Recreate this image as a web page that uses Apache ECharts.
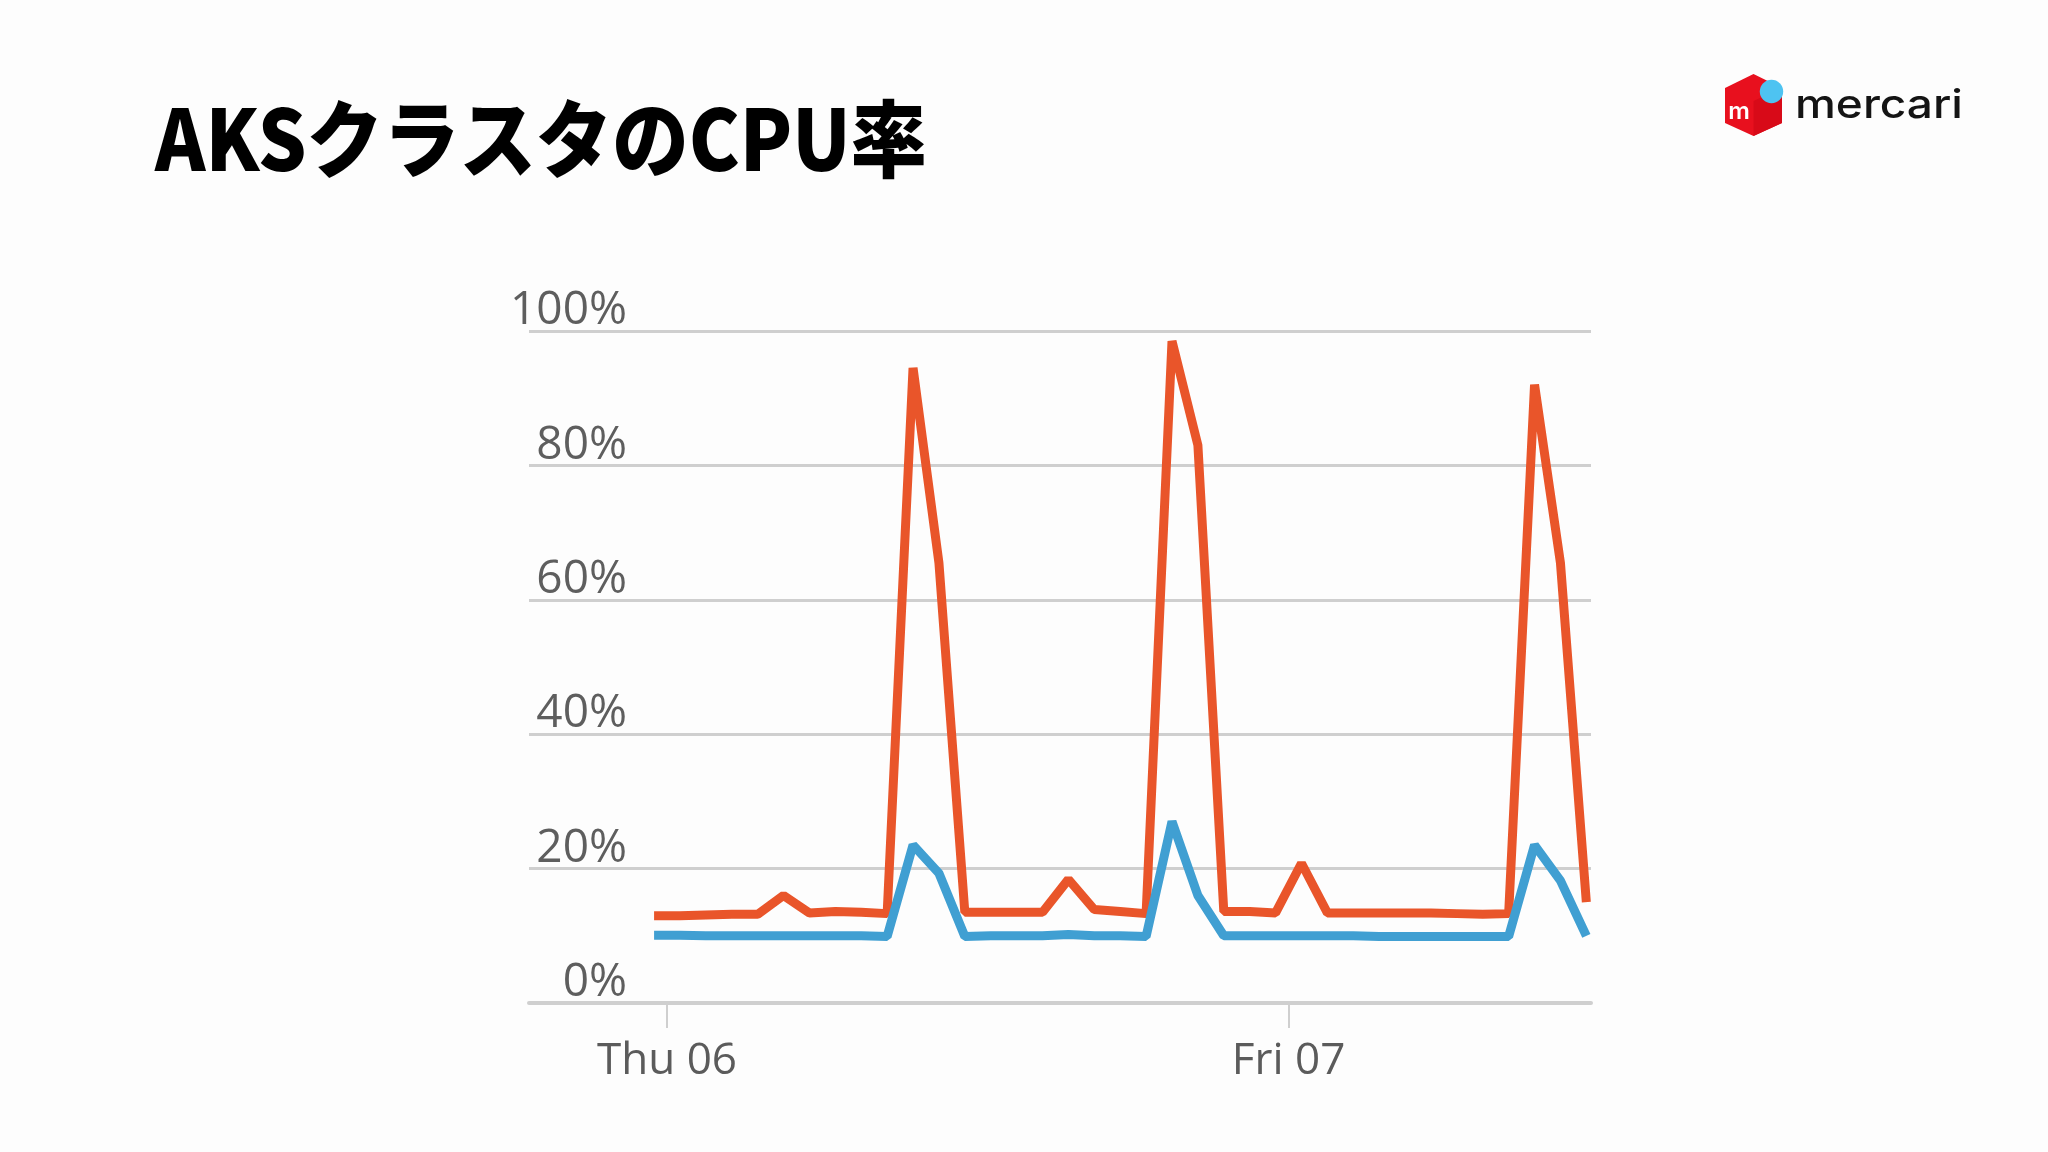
<!DOCTYPE html>
<html>
<head>
<meta charset="utf-8">
<script src="https://cdn.jsdelivr.net/npm/echarts@6/dist/echarts.min.js"></script>
<style>
html,body{margin:0;padding:0;background:#fdfdfd;}
#c{width:2048px;height:1152px;}
</style>
</head>
<body>
<div id="c"></div>
<script>
// hours relative to Thu 06 00:00 (one sample per hour, at half past)
const hours = [-0.5,0.5,1.5,2.5,3.5,4.5,5.5,6.5,7.5,8.5,9.5,10.5,11.5,12.5,13.5,14.5,15.5,16.5,17.5,18.5,19.5,20.5,21.5,22.5,23.5,24.5,25.5,26.5,27.5,28.5,29.5,30.5,31.5,32.5,33.5,34.5,35.5];
const orangeValues = [13.0,13.0,13.1,13.2,13.2,16.0,13.4,13.6,13.5,13.3,94.5,65.5,13.5,13.5,13.5,13.5,18.4,13.9,13.6,13.3,98.5,83.0,13.6,13.6,13.4,20.8,13.4,13.4,13.4,13.4,13.4,13.3,13.2,13.3,92.0,65.5,15.0];
const blueValues = [10.1,10.1,10.0,10.0,10.0,10.0,10.0,10.0,10.0,9.9,23.5,19.3,9.9,10.0,10.0,10.0,10.2,10.0,10.0,9.9,27.0,16.0,10.0,10.0,10.0,10.0,10.0,10.0,9.9,9.9,9.9,9.9,9.9,9.9,23.5,18.2,10.0];
const xTickHours = [0,24];
const xTickLabels = ['Thu 06','Fri 07'];
const yTickValues = [0,20,40,60,80,100];
const titleText = 'AKSクラスタのCPU率';
const logoText = 'mercari';

const chart = echarts.init(document.getElementById('c'), null, {renderer:'canvas'});
const pair = vals => hours.map((h,i)=>[h, vals[i]]);

chart.setOption({
  backgroundColor:'#fdfdfd',
  animation:false,
  grid:{left:529, right:457, top:331, bottom:149, containLabel:false},
  xAxis:{
    type:'value', min:-5.33, max:35.68,
    axisLine:{show:true, lineStyle:{color:'#cfcfcf', width:4}},
    axisTick:{show:true, customValues:xTickHours, length:25, lineStyle:{color:'#cfcfcf', width:2}},
    axisLabel:{
      customValues:xTickHours,
      formatter:(v)=>{const k=xTickHours.indexOf(v); return k>=0?xTickLabels[k]:'';},
      margin:36, fontSize:44, lineHeight:44,
      fontFamily:'Open Sans, Noto Sans, sans-serif', color:'#5b5b5b'
    },
    splitLine:{show:false}
  },
  yAxis:{
    type:'value', min:0, max:100, interval:20,
    axisLine:{show:false}, axisTick:{show:false},
    splitLine:{show:true, lineStyle:{color:'#cfcfcf', width:3}},
    axisLabel:{
      formatter:(v)=> yTickValues.includes(v) ? v + '%' : '',
      margin:-98, align:'right', verticalAlign:'bottom',
      fontSize:46, lineHeight:40, fontFamily:'Open Sans', color:'#5e5e5e'
    }
  },
  series:[
    {type:'line', data:pair(orangeValues), showSymbol:false, symbol:'none',
     lineStyle:{color:'#E9552A', width:9}, z:2},
    {type:'line', data:pair(blueValues), showSymbol:false, symbol:'none',
     lineStyle:{color:'#409FD2', width:9}, z:3}
  ],
  graphic:[
    {type:'text', x:155, y:97, scaleX:0.91,
     style:{text:titleText, fill:'#000', font:'900 84px "Noto Sans CJK JP"', align:'left', verticalAlign:'top'}},
    {type:'polygon', shape:{points:[[1725,88],[1753.5,74],[1782,88],[1782,123],[1753.5,136],[1725,123]]},
     style:{fill:'#E8101E'}},
    {type:'polygon', shape:{points:[[1753.5,101],[1782,88],[1782,123],[1753.5,136]]},
     style:{fill:'#D80A18'}},
    {type:'circle', shape:{cx:1771.5, cy:91.5, r:11.7}, style:{fill:'#4EC3F1'}},
    {type:'text', x:1739, y:112, style:{text:'m', fill:'#fff', font:'600 24px Inter', align:'center', verticalAlign:'middle'}},
    {type:'text', x:1795, y:105.5, scaleX:1.15,
     style:{text:logoText, fill:'#141414', font:'500 40px Inter', align:'left', verticalAlign:'middle'}}
  ]
});
</script>
</body>
</html>
